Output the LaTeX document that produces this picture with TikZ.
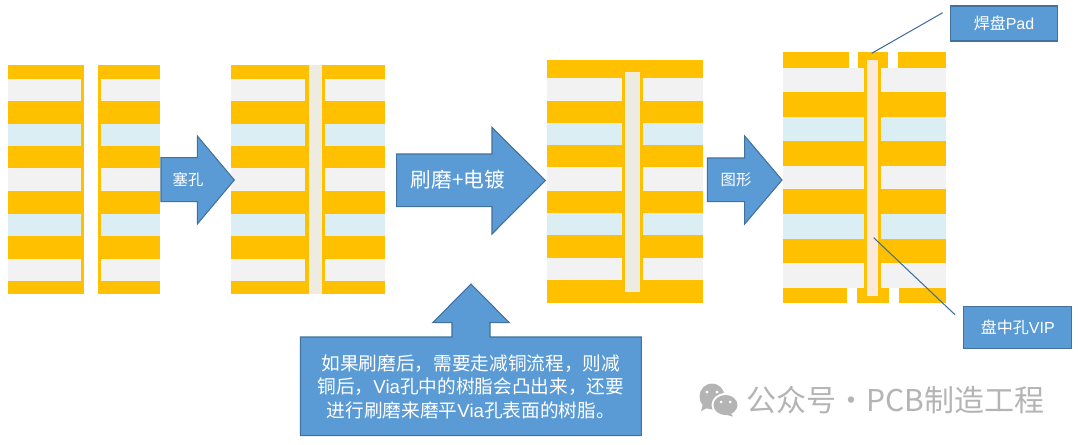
\documentclass[tikz,border=0pt]{standalone}
\usepackage{fontspec}
\setmainfont{Noto Sans CJK SC}
\newfontfamily\latfont{Liberation Sans}
\newcommand{\lat}[1]{{\latfont #1}}
\definecolor{copperc}{HTML}{FFC000}
\definecolor{grayc}{HTML}{F2F2F2}
\definecolor{bluec}{HTML}{DAEEF3}
\definecolor{resinc}{HTML}{EEECE1}
\definecolor{peachc}{HTML}{FDE9D9}
\definecolor{boxc}{HTML}{5B9BD5}
\definecolor{edgec}{HTML}{41719C}
\definecolor{markc}{HTML}{B4B4B4}
\tikzset{
  blueshape/.style={fill=boxc,draw=edgec,line width=0.8pt,line join=miter},
  lbl/.style={text=white,inner sep=0pt,align=center},
  leader/.style={draw=edgec,line width=0.8pt},
}
% \layers{xL}{xR}{list of y0/y1/colour}
\newcommand{\layers}[3]{\foreach \ya/\yb/\cc in {#3}{\fill[\cc] (#1,\ya) rectangle (#2,\yb);}}
\begin{document}
\begin{tikzpicture}[x=0.75pt,y=-0.75pt]
\useasboundingbox (0,0) rectangle (1080,444);
\fill[white] (0,0) rectangle (1080,444);
% stack 1
\fill[copperc] (8,65.3) rectangle (84,294.3);
\fill[copperc] (98,65.3) rectangle (160,294.3);
\layers{8}{81}{79/101/grayc,124/146/bluec,168/191/grayc,213.5/236/bluec,258.5/281/grayc}
\layers{101}{160}{79/101/grayc,124/146/bluec,168/191/grayc,213.5/236/bluec,258.5/281/grayc}
% stack 2
\fill[copperc] (231,65.3) rectangle (385,294.3);
\layers{231}{305.3}{79/101/grayc,124/146/bluec,168/191/grayc,213.5/236/bluec,258.5/281/grayc}
\layers{325.3}{385}{79/101/grayc,124/146/bluec,168/191/grayc,213.5/236/bluec,258.5/281/grayc}
\fill[resinc] (308.7,65.3) rectangle (322.3,294.3);
% stack 3
\fill[copperc] (547.3,60) rectangle (702.7,302.7);
\layers{547.3}{622}{77.7/100.7/grayc,123/145/bluec,167.3/190.7/grayc,213/235.3/bluec,258/280.3/grayc}
\layers{643}{702.7}{77.7/100.7/grayc,123/145/bluec,167.3/190.7/grayc,213/235.3/bluec,258/280.3/grayc}
\fill[resinc] (625,72) rectangle (640,292);
% stack 4
\fill[copperc] (783,52.3) rectangle (946,303.3);
\layers{783}{864}{67.7/92.3/grayc,117/141.3/bluec,166/189.3/grayc,213.7/239/bluec,263.3/288.3/grayc}
\layers{881.3}{946}{67.7/92.3/grayc,117/141.3/bluec,166/189.3/grayc,213.7/239/bluec,263.3/288.3/grayc}
\fill[white] (849,52) rectangle (858.3,67.7);
\fill[white] (888.3,52) rectangle (898.3,67.7);
\fill[white] (847.3,288.3) rectangle (856.7,304);
\fill[white] (889.3,288.3) rectangle (899,304);
\fill[peachc] (867.3,60) rectangle (878,296);
% arrows
\draw[blueshape] (161,157.7) -- (197.3,157.7) -- (197.3,136) -- (234.3,180) -- (197.3,224) -- (197.3,201.7) -- (161,201.7) -- cycle;
\node[lbl,font=\fontsize{11.5pt}{14pt}\selectfont] (plug) at (188,179.5) {塞孔};
\draw[blueshape] (396.7,154) -- (492,154) -- (492,127.3) -- (545.3,180.5) -- (492,234) -- (492,206.7) -- (396.7,206.7) -- cycle;
\node[lbl,font=\fontsize{15.5pt}{18pt}\selectfont] (plate) at (458,180) {刷磨+电镀};
\draw[blueshape] (707.3,158) -- (744.7,158) -- (744.7,136) -- (782,180) -- (744.7,224) -- (744.7,201.7) -- (707.3,201.7) -- cycle;
\node[lbl,font=\fontsize{11.5pt}{14pt}\selectfont] (pattern) at (736,180) {图形};
% callout
\draw[blueshape] (300.3,337) -- (452,337) -- (452,322.7) -- (432.7,322.7) -- (471,284) -- (509.3,322.7) -- (490,322.7) -- (490,337) -- (641.3,337) -- (641.3,435.7) -- (300.3,435.7) -- cycle;
\node[lbl,font=\fontsize{14pt}{17.6pt}\selectfont] (note) at (470.8,386.5) {如果刷磨后，需要走减铜流程，则减\\铜后，\lat{Via}孔中的树脂会凸出来，还要\\进行刷磨来磨平\lat{Via}孔表面的树脂。};
% boxes
\node[blueshape,lbl,minimum width=80pt,minimum height=26.25pt,font=\fontsize{12pt}{14pt}\selectfont] (pad) at (1004,23.5) {焊盘\lat{Pad}};
\node[blueshape,lbl,minimum width=81.2pt,minimum height=31.8pt,font=\fontsize{12pt}{14pt}\selectfont] (vip) at (1017.8,327.5) {盘中孔\lat{VIP}};
% leaders
\coordinate (padA) at (942.7,12.7);
\coordinate (padB) at (871.7,53.3);
\coordinate (vipA) at (873.7,237.7);
\coordinate (vipB) at (955,314.7);
\draw[leader] (padA) -- (padB);
\draw[leader] (vipA) -- (vipB);
% watermark icon
\fill[markc] (712,396.5) ellipse [x radius=12.5,y radius=13];
\fill[markc] (703,404) -- (701,411) -- (709,407) -- cycle;
\fill[white] (725.5,405) ellipse [x radius=14,y radius=12];
\fill[markc] (725.5,405) ellipse [x radius=12,y radius=10];
\fill[markc] (730,412) -- (733,416.5) -- (723,414) -- cycle;
\fill[white] (707,392) circle (1.7) (717,392) circle (1.7) (721,402) circle (1.5) (730,402) circle (1.5);
\node[inner sep=0pt,anchor=west,text=markc,font=\fontsize{22.5pt}{26pt}\selectfont] (mark) at (746,400) {公众号·PCB制造工程};
\end{tikzpicture}
\end{document}
